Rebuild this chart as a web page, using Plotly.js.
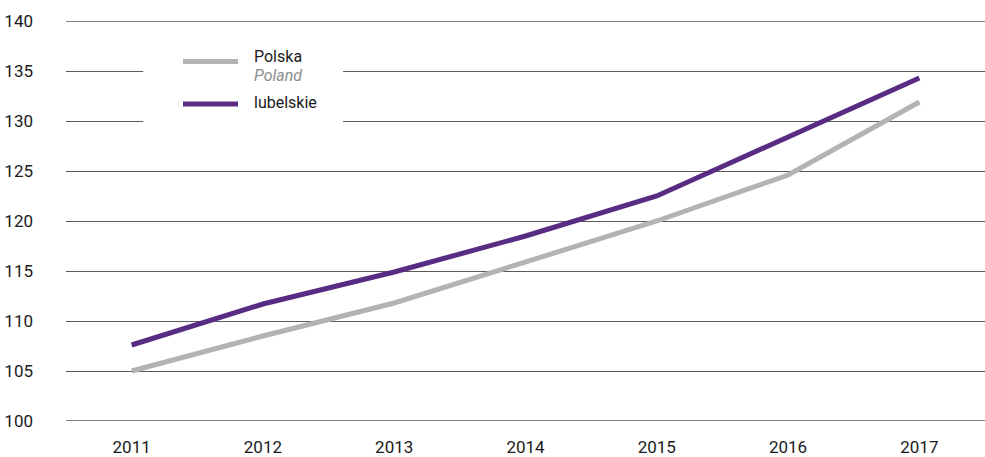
<!DOCTYPE html>
<html>
<head>
<meta charset="utf-8">
<script src="https://cdn.plot.ly/plotly-3.0.1.min.js"></script>
<style>html,body{margin:0;padding:0;background:#fff;}#chart{width:985px;height:457px;}</style>
</head>
<body>
<div id="chart"></div>
<script>
const years = ['2011','2012','2013','2014','2015','2016','2017'];
const polska = [105.0, 108.5, 111.8, 115.9, 120.0, 124.6, 131.9];
const lubelskie = [107.6, 111.7, 114.9, 118.5, 122.5, 128.4, 134.3];
const yTicks = [100,105,110,115,120,125,130,135,140];
const seriesNames = ['Polska', 'lubelskie'];
const seriesNamesEn = ['Poland', ''];
const seriesColors = ['#b3b3b3', '#582c83'];

const FONT = '"Liberation Sans Narrow", "Arial Narrow", Roboto, sans-serif';

const traces = [
  {x: years, y: polska, type:'scatter', mode:'lines', name: seriesNames[0],
   line:{color:seriesColors[0], width:5}},
  {x: years, y: lubelskie, type:'scatter', mode:'lines', name: seriesNames[1],
   line:{color:seriesColors[1], width:5}}
];

// manual legend (paper coords)
const shapes = [
  {type:'rect', xref:'paper', yref:'paper', x0:0.084, x1:0.3015, y0:0.74, y1:0.93,
   fillcolor:'#fff', line:{width:0}, layer:'above'},
  {type:'line', xref:'paper', yref:'y', x0:0, x1:1, y0:140, y1:140, line:{color:'#000', width:1}, layer:'below'},
  {type:'line', xref:'paper', yref:'y', x0:0, x1:1, y0:100, y1:100, line:{color:'#000', width:1}, layer:'below'},
  {type:'line', xref:'paper', yref:'paper', x0:0.1273, x1:0.1872, y0:0.8988, y1:0.8988,
   line:{color:seriesColors[0], width:5}, layer:'above'},
  {type:'line', xref:'paper', yref:'paper', x0:0.1273, x1:0.1872, y0:0.7925, y1:0.7925,
   line:{color:seriesColors[1], width:5}, layer:'above'}
];
const annotations = [
  {xref:'paper', yref:'paper', x:0.2024, y:0.9125, xanchor:'left', yanchor:'middle', showarrow:false,
   text: seriesNames[0], font:{family:FONT, size:16, color:'#1a1a1a'}},
  {xref:'paper', yref:'paper', x:0.2024, y:0.8625, xanchor:'left', yanchor:'middle', showarrow:false,
   text: '<i>' + seriesNamesEn[0] + '</i>', font:{family:FONT, size:16, color:'#8c8c8c'}},
  {xref:'paper', yref:'paper', x:0.2024, y:0.7975, xanchor:'left', yanchor:'middle', showarrow:false,
   text: seriesNames[1], font:{family:FONT, size:16, color:'#1a1a1a'}}
];

const layout = {
  width:985, height:457,
  margin:{l:66, r:0, t:21, b:36},
  paper_bgcolor:'#fff', plot_bgcolor:'#fff',
  font:{family:FONT, size:17, color:'#1a1a1a'},
  showlegend:false,
  xaxis:{type:'category', range:[-0.5,6.5], showgrid:false, zeroline:false,
         showline:false, ticks:'', ticklabelstandoff:14, fixedrange:true},
  yaxis:{range:[100,140], tickvals:yTicks, showgrid:true, gridcolor:'#5a5a5a', gridwidth:1,
         zeroline:false, showline:false, ticks:'', ticklabelstandoff:32, fixedrange:true},
  shapes: shapes,
  annotations: annotations
};

Plotly.newPlot('chart', traces, layout, {displayModeBar:false, staticPlot:true});
</script>
</body>
</html>
